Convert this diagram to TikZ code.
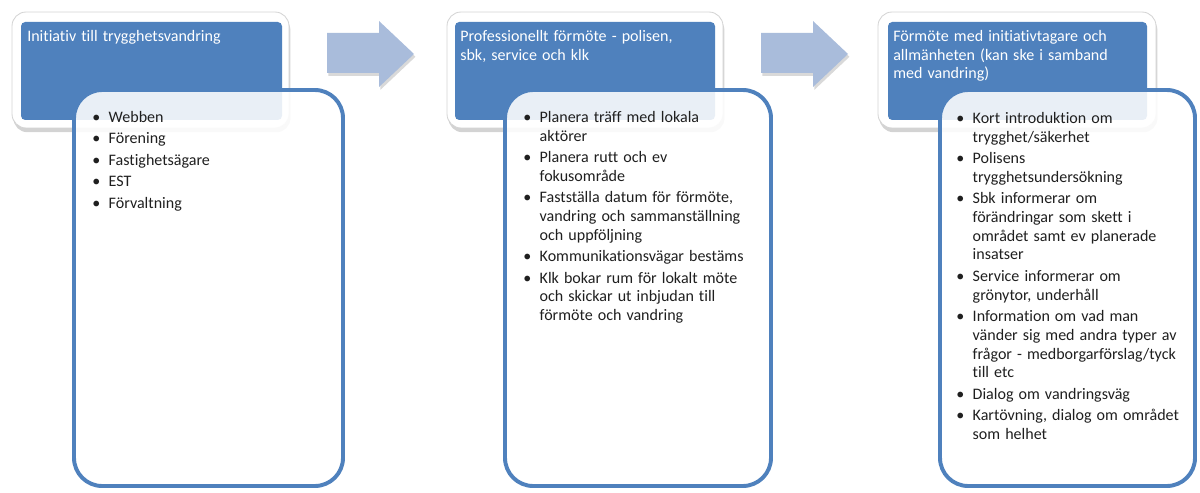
\documentclass[tikz,border=0pt]{standalone}
\usepackage{fontspec}
\setmainfont{Carlito}[Ligatures=NoCommon, WordSpace=1.4]
\usetikzlibrary{shadows}
\definecolor{stegblaa}{HTML}{4F81BD}
\definecolor{pilblaa}{HTML}{A9BCDB}
\definecolor{ramgraa}{HTML}{D4D4D4}
\newcommand{\pkt}{\textbullet}
\newcommand{\lucka}{\\[2pt]}
\begin{document}
\begin{tikzpicture}[x=0.025cm, y=-0.025cm,
    ramruta/.style={fill=white, draw=ramgraa, line width=0.6pt, rounded corners=10pt,
        drop shadow={shadow xshift=1pt, shadow yshift=-3pt, opacity=0.35}},
    rubrikruta/.style={fill=stegblaa, rounded corners=3pt},
    listruta/.style={draw=stegblaa, line width=2.8pt, fill=white, fill opacity=0.88,
        rounded corners=20pt},
    pil/.style={fill=pilblaa, drop shadow={shadow xshift=1pt, shadow yshift=-2pt, opacity=0.3}},
    rubrik/.style={anchor=north west, inner sep=0pt, text=white, align=left,
        font=\fontsize{11.4}{13.3}\selectfont},
    lista/.style={anchor=north west, inner sep=0pt, text=black!88,
        font=\fontsize{11.4}{13.3}\selectfont}]
    \useasboundingbox (0,0) rectangle (1200,492);

    % block arrows
    \foreach \x in {327,761} {
        \fill[pil] (\x,33) -- (\x+52,33) -- (\x+52,21) -- (\x+87,54)
            -- (\x+52,87) -- (\x+52,73) -- (\x,73) -- cycle;
    }

    % stage 1
    \draw[ramruta] (12,12) rectangle (289,128);
    \fill[rubrikruta] (21,22) rectangle (282,120);
    \node[rubrik] (rubrik1) at (27,30) {Initiativ till trygghetsvandring};
    \draw[listruta] (74,90) rectangle (343,486);
    \node[lista] (lista1) at (92,109) {\begin{tabular}{@{}l@{\hspace{6pt}}l@{}}
        \pkt & Webben\lucka
        \pkt & Förening\lucka
        \pkt & Fastighetsägare\lucka
        \pkt & EST\lucka
        \pkt & Förvaltning
    \end{tabular}};

    % stage 2
    \draw[ramruta] (447,12) rectangle (723,128);
    \fill[rubrikruta] (455,22) rectangle (715,120);
    \node[rubrik] (rubrik2) at (460,30) {Professionellt förmöte - polisen,\\sbk, service och klk};
    \draw[listruta] (505,90) rectangle (771,486);
    \node[lista] (lista2) at (523,109) {\begin{tabular}{@{}l@{\hspace{6pt}}l@{}}
        \pkt & Planera träff med lokala\\
             & aktörer\lucka
        \pkt & Planera rutt och ev\\
             & fokusområde\lucka
        \pkt & Fastställa datum för förmöte,\\
             & vandring och sammanställning\\
             & och uppföljning\lucka
        \pkt & Kommunikationsvägar bestäms\lucka
        \pkt & Klk bokar rum för lokalt möte\\
             & och skickar ut inbjudan till\\
             & förmöte och vandring
    \end{tabular}};

    % stage 3
    \draw[ramruta] (878,12) rectangle (1156,128);
    \fill[rubrikruta] (888,22) rectangle (1147,120);
    \node[rubrik] (rubrik3) at (893,30) {Förmöte med initiativtagare och\\allmänheten (kan ske i samband\\med vandring)};
    \draw[listruta] (940,90) rectangle (1195,486);
    \node[lista] (lista3) at (956,110) {\begin{tabular}{@{}l@{\hspace{6pt}}l@{}}
        \pkt & Kort introduktion om\\
             & trygghet/säkerhet\lucka
        \pkt & Polisens\\
             & trygghetsundersökning\lucka
        \pkt & Sbk informerar om\\
             & förändringar som skett i\\
             & området samt ev planerade\\
             & insatser\lucka
        \pkt & Service informerar om\\
             & grönytor, underhåll\lucka
        \pkt & Information om vad man\\
             & vänder sig med andra typer av\\
             & frågor - medborgarförslag/tyck\\
             & till etc\lucka
        \pkt & Dialog om vandringsväg\lucka
        \pkt & Kartövning, dialog om området\\
             & som helhet
    \end{tabular}};
\end{tikzpicture}
\end{document}
